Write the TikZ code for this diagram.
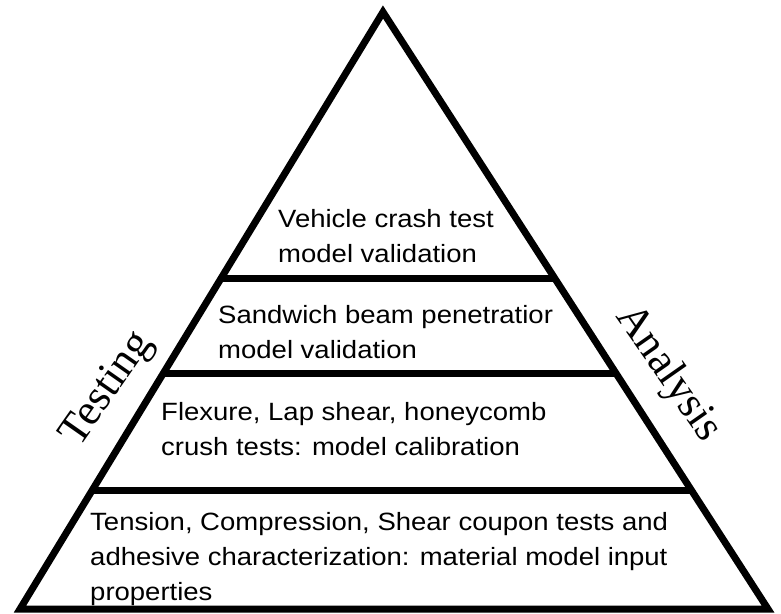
\documentclass[tikz,border=0pt]{standalone}
\usepackage{fontspec}
\setmainfont{Liberation Sans}
\newfontfamily\sidefont{Liberation Serif}
\usetikzlibrary{calc}
\begin{document}
\begin{tikzpicture}[x=1pt,y=-1pt,
  edge/.style={line width=7pt, line join=miter, miter limit=20},
  tier/.style={line width=7pt},
  band/.style={anchor=base west, inner sep=0pt, font=\fontsize{25}{35}\selectfont, align=left, xscale=1.1},
  side/.style={font=\sidefont\fontsize{44}{50}\selectfont, inner sep=0pt}]
\useasboundingbox (0,0) rectangle (781,613);
\fill[white] (0,0) rectangle (781,613);
\coordinate (A) at (383,12);
\coordinate (BL) at (20,609);
\coordinate (BR) at (768,609);
% tier boundaries
\coordinate (L1) at ($(A)!0.4456!(BL)$);
\coordinate (R1) at ($(A)!0.4456!(BR)$);
\coordinate (L2) at ($(A)!0.6047!(BL)$);
\coordinate (R2) at ($(A)!0.6047!(BR)$);
\coordinate (L3) at ($(A)!0.8007!(BL)$);
\coordinate (R3) at ($(A)!0.8007!(BR)$);
% texts (anchor = baseline of the last line)
\node[band] (t1) at (278,262) {Vehicle crash test\\model validation};
\node[band] (t2) at (218,358) {Sandwich beam penetratior\\model validation};
\node[band] (t3) at (161,455) {Flexure, Lap shear, honeycomb\\crush tests: model calibration};
\node[band] (t4) at (90,600) {Tension, Compression, Shear coupon tests and\\adhesive characterization: material model input\\properties};
% pyramid
\draw[edge] (A) -- (BL) -- (BR) -- cycle;
\draw[tier] (L1) -- (R1);
\draw[tier] (L2) -- (R2);
\draw[tier] (L3) -- (R3);
% side labels
\node[side, rotate=55] (testing) at (108,390) {Testing};
\node[side, rotate=-55] (analysis) at (668,374) {Analysis};
\end{tikzpicture}
\end{document}
